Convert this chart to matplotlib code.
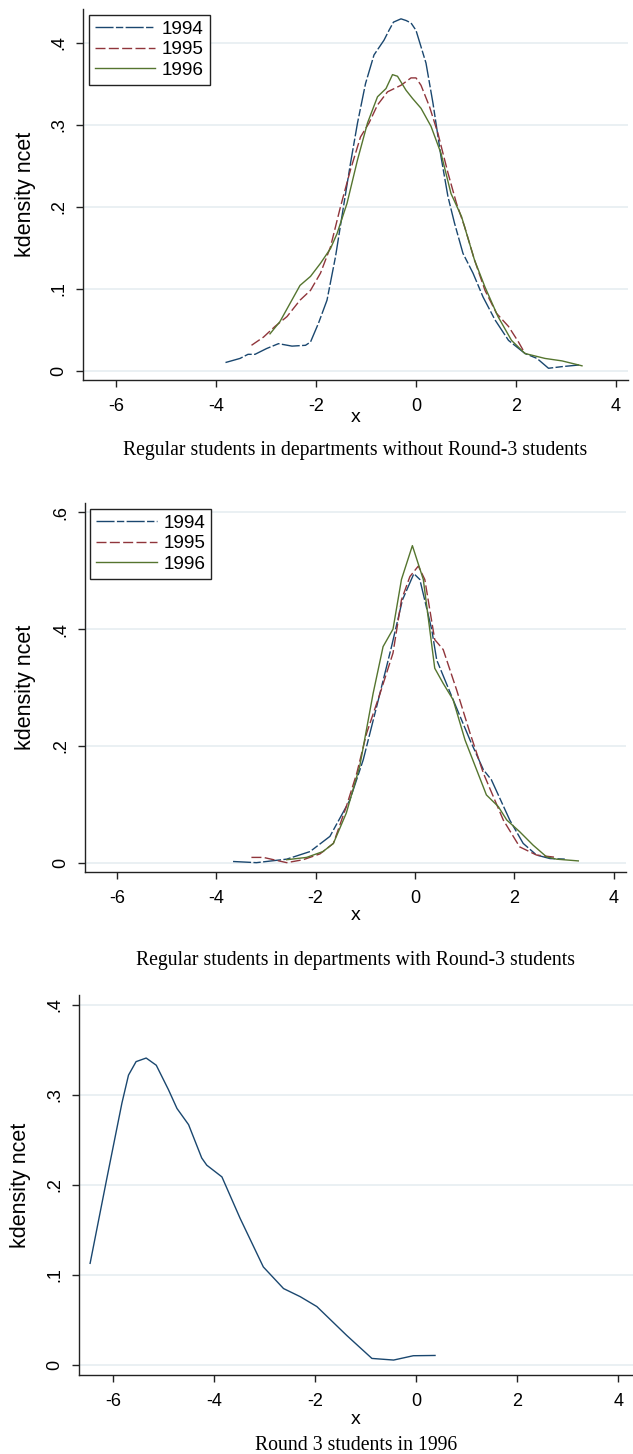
import matplotlib
matplotlib.use("Agg")
import matplotlib.pyplot as plt

# ---------------- data ----------------
years = ["1994", "1995", "1996"]

p1_1994_x = [-3.81, -3.52, -3.36, -3.22, -2.99, -2.75, -2.48, -2.21, -2.11, -1.95, -1.78, -1.61, -1.44, -1.31,
             -1.17, -1.01, -0.84, -0.64, -0.54, -0.45, -0.30, -0.20, -0.10, 0.0, 0.20, 0.34, 0.50, 0.64, 0.77,
             0.94, 1.14, 1.34, 1.58, 1.85, 2.18, 2.42, 2.65, 2.92, 3.26]
p1_1994_y = [0.010, 0.015, 0.020, 0.020, 0.027, 0.033, 0.030, 0.031, 0.035, 0.058, 0.086, 0.139, 0.204, 0.253,
             0.302, 0.350, 0.385, 0.403, 0.415, 0.425, 0.429, 0.427, 0.424, 0.415, 0.375, 0.326, 0.261, 0.212,
             0.180, 0.143, 0.119, 0.090, 0.062, 0.037, 0.021, 0.015, 0.003, 0.005, 0.007]

p1_1995_x = [-3.29, -3.05, -2.82, -2.58, -2.32, -2.11, -1.91, -1.71, -1.51, -1.31, -1.11, -0.94, -0.77, -0.57,
             -0.30, -0.10, 0.0, 0.10, 0.27, 0.44, 0.64, 0.81, 0.97, 1.17, 1.38, 1.61, 1.85, 2.05, 2.18]
p1_1995_y = [0.031, 0.041, 0.054, 0.066, 0.086, 0.098, 0.119, 0.151, 0.200, 0.245, 0.285, 0.302, 0.324, 0.340,
             0.348, 0.357, 0.357, 0.348, 0.322, 0.289, 0.241, 0.204, 0.176, 0.135, 0.098, 0.070, 0.054, 0.035,
             0.021]

p1_1996_x = [-2.92, -2.72, -2.52, -2.32, -2.11, -1.91, -1.71, -1.58, -1.38, -1.17, -0.97, -0.77, -0.60, -0.47,
             -0.37, -0.20, -0.07, 0.10, 0.30, 0.50, 0.70, 0.91, 1.17, 1.38, 1.64, 1.91, 2.18, 2.58, 2.92, 3.32]
p1_1996_y = [0.045, 0.060, 0.082, 0.104, 0.115, 0.131, 0.149, 0.167, 0.204, 0.257, 0.302, 0.334, 0.344, 0.361,
             0.359, 0.342, 0.332, 0.320, 0.298, 0.265, 0.216, 0.188, 0.135, 0.102, 0.066, 0.037, 0.021, 0.015,
             0.012, 0.006]

p2_1994_x = [-3.66, -3.19, -2.58, -2.11, -1.71, -1.31, -1.04, -0.77, -0.47, -0.25, -0.02, 0.10, 0.34, 0.44,
             0.77, 1.11, 1.38, 1.54, 1.91, 2.18, 2.45, 2.72, 3.05]
p2_1994_y = [0.002, 0.000, 0.006, 0.019, 0.045, 0.107, 0.176, 0.267, 0.370, 0.450, 0.495, 0.485, 0.399, 0.347,
             0.279, 0.210, 0.159, 0.142, 0.073, 0.033, 0.013, 0.007, 0.006]

p2_1995_x = [-3.29, -3.05, -2.58, -2.25, -1.91, -1.64, -1.38, -1.17, -0.97, -0.70, -0.44, -0.27, -0.10, 0.07,
             0.20, 0.40, 0.57, 0.84, 1.11, 1.38, 1.78, 2.11, 2.45, 2.85]
p2_1995_y = [0.009, 0.009, 0.000, 0.005, 0.015, 0.033, 0.096, 0.153, 0.222, 0.290, 0.359, 0.450, 0.490, 0.508,
             0.485, 0.382, 0.365, 0.296, 0.222, 0.153, 0.073, 0.027, 0.013, 0.009]

p2_1996_x = [-2.58, -2.18, -1.85, -1.64, -1.38, -1.11, -0.84, -0.64, -0.44, -0.27, -0.05, 0.17, 0.40, 0.57,
             0.77, 1.01, 1.44, 1.68, 1.85, 2.11, 2.38, 2.65, 2.85, 3.29]
p2_1996_y = [0.005, 0.009, 0.019, 0.033, 0.085, 0.165, 0.290, 0.370, 0.400, 0.485, 0.543, 0.485, 0.333, 0.307,
             0.279, 0.210, 0.116, 0.096, 0.073, 0.053, 0.030, 0.010, 0.006, 0.003]

p3_x = [-6.46, -6.13, -5.83, -5.70, -5.55, -5.35, -5.15, -4.91, -4.74, -4.51, -4.25, -4.15, -3.85, -3.49,
        -3.03, -2.63, -2.30, -1.97, -1.38, -0.88, -0.45, -0.06, 0.37]
p3_y = [0.113, 0.207, 0.291, 0.322, 0.337, 0.341, 0.333, 0.306, 0.285, 0.267, 0.230, 0.222, 0.209, 0.163,
        0.109, 0.085, 0.076, 0.065, 0.033, 0.0074, 0.0056, 0.0104, 0.0107]

x_ticks = [-6, -4, -2, 0, 2, 4]
x_tick_labels = ["-6", "-4", "-2", "0", "2", "4"]
p1_y_ticks = [0, 0.1, 0.2, 0.3, 0.4]
p1_y_labels = ["0", ".1", ".2", ".3", ".4"]
p2_y_ticks = [0, 0.2, 0.4, 0.6]
p2_y_labels = ["0", ".2", ".4", ".6"]
p3_y_ticks = [0, 0.1, 0.2, 0.3, 0.4]
p3_y_labels = ["0", ".1", ".2", ".3", ".4"]

titles = ["Regular students in departments without Round-3 students",
          "Regular students in departments with Round-3 students",
          "Round 3 students in 1996"]
y_title = "kdensity ncet"
x_title = "x"

# ---------------- styling ----------------
W, H = 633, 1454
SANS = "Liberation Sans"
SERIF = "Liberation Serif"
plt.rcParams["font.family"] = [SANS, "DejaVu Sans"]
plt.rcParams["lines.scale_dashes"] = False

C94, C95, C96 = "#1a476f", "#90353b", "#55752f"
GRID = "#e6eef1"
LW = 1.0
STY94 = (0, (13, 1.7, 5.3, 1.7))
STY95 = (0, (7.2, 2.4))

fig = plt.figure(figsize=(W / 100, H / 100), dpi=100)


def rect(l, t, r, b):
    return [l / W, 1 - b / H, (r - l) / W, (b - t) / H]


def setup(ax, xlim, ylim, yticks, ylabels):
    ax.set_xlim(*xlim)
    ax.set_ylim(*ylim)
    for s in ["top", "right"]:
        ax.spines[s].set_visible(False)
    for s in ["left", "bottom"]:
        ax.spines[s].set_linewidth(1.0)
        ax.spines[s].set_color("#222222")
    ax.set_xticks(x_ticks)
    ax.set_xticklabels(x_tick_labels, fontsize=13)
    ax.set_yticks(yticks)
    ax.set_yticklabels(ylabels, fontsize=13, rotation=90, va="center")
    ax.tick_params(axis="both", direction="out", length=5, width=1.0, color="#222222")
    ax.tick_params(axis="x", pad=8)
    ax.tick_params(axis="y", pad=6)
    for yt in yticks:
        ax.axhline(yt, color=GRID, lw=1.2, zorder=0)
    ax.set_facecolor("white")


def add_texts(ax_box, idx, x_y, title_y, ylab_x):
    l, t, r, b = ax_box
    cx = (l + r) / 2
    fig.text(cx / W, 1 - x_y / H, x_title, ha="center", va="center", fontsize=14)
    fig.text(cx / W, 1 - title_y / H, titles[idx], ha="center", va="center",
             fontsize=14.2, family=[SERIF, "DejaVu Serif"])
    fig.text(ylab_x / W, 1 - ((t + b) / 2) / H, y_title, ha="center", va="center",
             rotation=90, fontsize=15.5)


def add_legend(ax):
    leg = ax.legend(loc="upper left", bbox_to_anchor=(0.0, 1.0), borderaxespad=0.3,
                    fontsize=13.6, frameon=True, fancybox=False, framealpha=1,
                    edgecolor="#222222", handlelength=3.2, handletextpad=0.35,
                    labelspacing=0.17, borderpad=0.32)
    leg.get_frame().set_linewidth(1.0)


# Panel 1
box1 = (83, 9, 628, 380)
ax1 = fig.add_axes(rect(*box1))
setup(ax1, (-6.66, 4.24), (-0.0113, 0.441), p1_y_ticks, p1_y_labels)
ax1.plot(p1_1994_x, p1_1994_y, color=C94, lw=LW, ls=STY94, label=years[0])
ax1.plot(p1_1995_x, p1_1995_y, color=C95, lw=LW, ls=STY95, label=years[1])
ax1.plot(p1_1996_x, p1_1996_y, color=C96, lw=LW, ls="-", label=years[2])
add_legend(ax1)
add_texts(box1, 0, 418, 451, 26)

# Panel 2
box2 = (84.5, 503, 626, 872)
ax2 = fig.add_axes(rect(*box2))
setup(ax2, (-6.65, 4.25), (-0.016, 0.616), p2_y_ticks, p2_y_labels)
ax2.plot(p2_1994_x, p2_1994_y, color=C94, lw=LW, ls=STY94, label=years[0])
ax2.plot(p2_1995_x, p2_1995_y, color=C95, lw=LW, ls=STY95, label=years[1])
ax2.plot(p2_1996_x, p2_1996_y, color=C96, lw=LW, ls="-", label=years[2])
add_legend(ax2)
add_texts(box2, 1, 916, 960, 26)

# Panel 3
box3 = (79, 995, 633, 1375)
ax3 = fig.add_axes(rect(*box3))
setup(ax3, (-6.68, 4.29), (-0.011, 0.411), p3_y_ticks, p3_y_labels)
ax3.plot(p3_x, p3_y, color=C94, lw=LW, ls="-")
add_texts(box3, 2, 1419, 1445, 21)

fig.savefig("out.png", dpi=100, facecolor="white")
